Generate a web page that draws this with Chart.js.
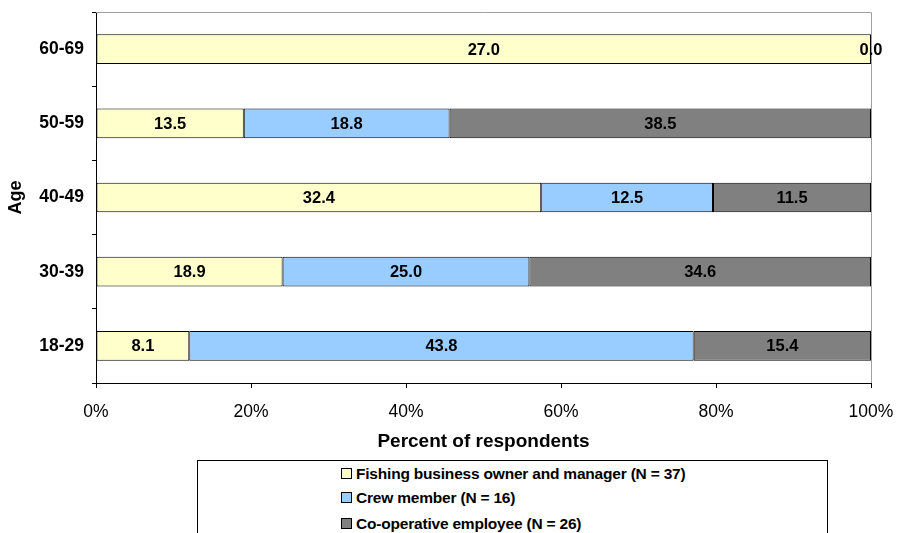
<!DOCTYPE html>
<html>
<head>
<meta charset="utf-8">
<script src="https://cdn.jsdelivr.net/npm/chart.js@4/dist/chart.umd.min.js"></script>
<style>
  html, body { margin: 0; padding: 0; background: #fff; }
  #wrap { position: relative; width: 897px; height: 533px; overflow: hidden; }
  canvas { position: absolute; left: 0; top: 0; }
  #legend { position: absolute; left: 197px; top: 460px; width: 631px; height: 90px;
    border: 1px solid #000; box-sizing: border-box; background: #fff;
    font-family: "Liberation Sans", Arial, sans-serif; font-weight: bold; font-size: 15.5px; color: #000; }
  .item { position: absolute; left: 143px; height: 18px; line-height: 18px; white-space: nowrap; letter-spacing: -0.2px; }
  .sw { display: inline-block; width: 9px; height: 9px; border: 1px solid #000; margin-right: 4px; vertical-align: -0px; }
</style>
</head>
<body>
<div id="wrap">
  <canvas id="c" width="897" height="533"></canvas>
  <div id="legend"></div>
</div>
<script>
const categories = ["60-69", "50-59", "40-49", "30-39", "18-29"];
const seriesNames = ["Fishing business owner and manager (N = 37)", "Crew member (N = 16)", "Co-operative employee (N = 26)"];
const ownerValues = [27.0, 13.5, 32.4, 18.9, 8.1];
const crewValues = [0.0, 18.8, 12.5, 25.0, 43.8];
const coopValues = [0.0, 38.5, 11.5, 34.6, 15.4];
const xTickLabels = ["0%", "20%", "40%", "60%", "80%", "100%"];
const colors = ["#FFFFCC", "#99CCFF", "#808080"];

const raw = [ownerValues, crewValues, coopValues];
const totals = categories.map((_, i) => raw.reduce((s, arr) => s + arr[i], 0));
const pct = raw.map(arr => arr.map((v, i) => totals[i] ? v / totals[i] * 100 : 0));

const FONT = "'Liberation Sans', Arial, sans-serif";

const labelPlugin = {
  id: 'valLabels',
  afterDatasetsDraw(chart) {
    const ctx = chart.ctx;
    ctx.save();
    ctx.font = "bold 16.5px " + FONT;
    ctx.fillStyle = "#000";
    ctx.textAlign = "center";
    ctx.textBaseline = "middle";
    chart.data.datasets.forEach((ds, di) => {
      const meta = chart.getDatasetMeta(di);
      meta.data.forEach((bar, i) => {
        const v = ds.rawValues[i];
        if (di === 1 && v === 0) return;
        const x = (bar.x + bar.base) / 2;
        ctx.fillText(v.toFixed(1), x, bar.y + 1);
      });
    });
    ctx.restore();
  }
};

const borderPlugin = {
  id: 'frame',
  beforeDatasetsDraw(chart) {
    const {ctx, chartArea: a} = chart;
    ctx.save();
    ctx.strokeStyle = "#A0A0A0";
    ctx.lineWidth = 1;
    ctx.beginPath();
    ctx.moveTo(a.left, a.top + 0.5);
    ctx.lineTo(a.right + 0.5, a.top + 0.5);
    ctx.lineTo(a.right + 0.5, a.bottom);
    ctx.stroke();
    ctx.restore();
  }
};

new Chart(document.getElementById('c'), {
  type: 'bar',
  data: {
    labels: categories,
    datasets: seriesNames.map((n, k) => ({
      label: n,
      data: pct[k],
      rawValues: raw[k],
      backgroundColor: colors[k],
      borderColor: "#000",
      borderWidth: 1,
      borderSkipped: false,
      barPercentage: 0.4,
      categoryPercentage: 1.0
    }))
  },
  options: {
    indexAxis: 'y',
    responsive: false,
    animation: false,
    events: [],
    layout: { padding: { left: 0, top: 12, right: 26, bottom: 80 } },
    plugins: { legend: { display: false }, tooltip: { enabled: false } },
    scales: {
      x: {
        stacked: true, min: 0, max: 100,
        afterFit(s) { s.height = 70; s.paddingLeft = 0; s.paddingRight = 0; },
        afterBuildTicks(s) { s.ticks = xTickLabels.map((_, i) => ({ value: i * 20 })); },
        ticks: { callback: (v, i) => xTickLabels[i], color: "#000", font: { family: FONT, size: 17.5 }, padding: 14, maxRotation: 0 },
        grid: { drawOnChartArea: false, color: "#000", tickLength: 5, tickColor: "#000" },
        border: { color: "#000", width: 1 },
        title: { display: true, text: "Percent of respondents", color: "#000", font: { family: FONT, size: 19, weight: 'bold' }, padding: { top: 0, bottom: 0 } }
      },
      y: {
        stacked: true,
        offset: true,
        afterFit(s) { s.width = 96; s.paddingTop = 0; s.paddingBottom = 0; },
        ticks: { color: "#000", font: { family: FONT, size: 17.5, weight: 'bold' }, padding: 8 },
        grid: { offset: true, drawOnChartArea: false, color: "#000", tickLength: 4, tickColor: "#000" },
        border: { color: "#000", width: 1 },
        title: { display: true, text: "Age", color: "#000", font: { family: FONT, size: 18, weight: 'bold' }, padding: { top: 5, bottom: 0 } }
      }
    }
  },
  plugins: [borderPlugin, labelPlugin]
});

const leg = document.getElementById('legend');
seriesNames.forEach((n, k) => {
  const d = document.createElement('div');
  d.className = 'item';
  d.style.top = [4, 28, 54][k] + 'px';
  const sw = document.createElement('span');
  sw.className = 'sw';
  sw.style.background = colors[k];
  d.appendChild(sw);
  d.appendChild(document.createTextNode(n));
  leg.appendChild(d);
});
</script>
</body>
</html>
